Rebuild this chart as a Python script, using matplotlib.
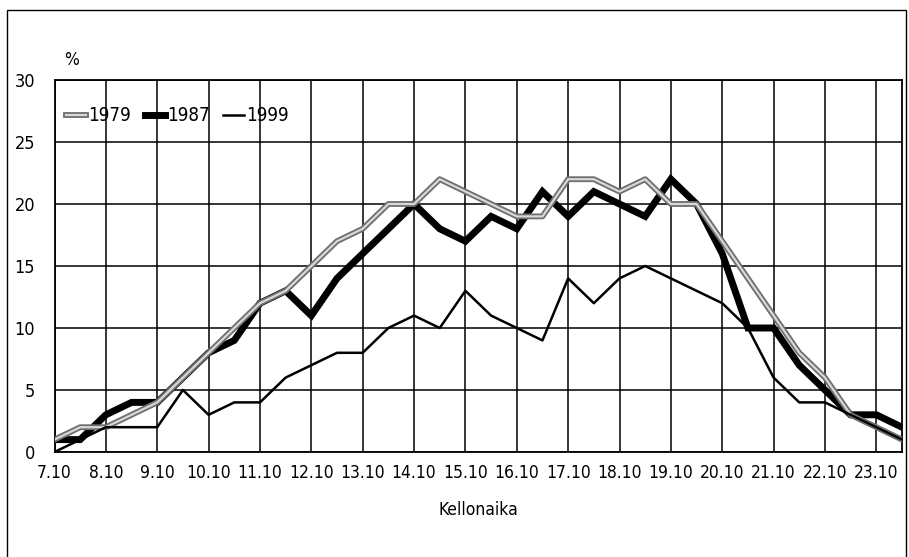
import matplotlib
matplotlib.use('Agg')
import matplotlib.pyplot as plt
import matplotlib.patheffects as pe
from matplotlib.patches import Rectangle

# kellonajat puolen tunnin valein 7.10 - 23.40
times = ['7.10', '7.40', '8.10', '8.40', '9.10', '9.40', '10.10', '10.40', '11.10', '11.40',
         '12.10', '12.40', '13.10', '13.40', '14.10', '14.40', '15.10', '15.40', '16.10', '16.40',
         '17.10', '17.40', '18.10', '18.40', '19.10', '19.40', '20.10', '20.40', '21.10', '21.40',
         '22.10', '22.40', '23.10', '23.40']
y1979 = [1, 2, 2, 3, 4, 6, 8, 10, 12, 13, 15, 17, 18, 20, 20, 22, 21, 20, 19, 19,
         22, 22, 21, 22, 20, 20, 17, 14, 11, 8, 6, 3, 2, 1]
y1987 = [1, 1, 3, 4, 4, 6, 8, 9, 12, 13, 11, 14, 16, 18, 20, 18, 17, 19, 18, 21,
         19, 21, 20, 19, 22, 20, 16, 10, 10, 7, 5, 3, 3, 2]
y1999 = [0, 1, 2, 2, 2, 5, 3, 4, 4, 6, 7, 8, 8, 10, 11, 10, 13, 11, 10, 9,
         14, 12, 14, 15, 14, 13, 12, 10, 6, 4, 4, 3, 2, 1]
tick_labels = times[::2]

plt.rcParams['font.family'] = ['DejaVu Sans']
plt.rcParams['font.stretch'] = 'condensed'

fig = plt.figure(figsize=(9.09, 5.57), dpi=100)
ax = fig.add_axes([54.5 / 909, 1 - 452 / 557, (902 - 54.5) / 909, (452 - 80) / 557])

# kehys koko kuvan ympari
fig.patches.append(Rectangle((7 / 909, -0.01), 899 / 909, 1.01 - 10 / 557, transform=fig.transFigure,
                             fill=False, ec='black', lw=1.0))

x = list(range(len(times)))
ax.plot(x, y1987, color='black', lw=5, solid_joinstyle='miter', label='1987', zorder=3)
ax.plot(x, y1979, color='#d8d8d8', lw=1.6, label='1979', zorder=4,
        path_effects=[pe.Stroke(linewidth=4.2, foreground='#6e6e6e'), pe.Normal()])
ax.plot(x, y1999, color='black', lw=1.8, label='1999', zorder=5)

ax.set_xlim(0, len(times) - 1)
ax.set_ylim(0, 30)
ax.set_xticks(x[::2])
ax.set_xticklabels(tick_labels, fontsize=12.5)
ax.set_yticks(range(0, 31, 5))
ax.tick_params(axis='y', labelsize=13, length=0, pad=14)
ax.tick_params(axis='x', length=0, pad=9)
ax.grid(True, color='black', lw=1.1)
ax.set_axisbelow(True)
for s in ax.spines.values():
    s.set_linewidth(1.3)

ax.set_xlabel('Kellonaika', fontsize=12.5, labelpad=13)
fig.text(64 / 909, 1 - 60 / 557, '%', fontsize=12.5, va='center')

h, l = ax.get_legend_handles_labels()
order = [1, 0, 2]
ax.legend([h[i] for i in order], [l[i] for i in order], loc='upper left', ncol=3, frameon=False,
          fontsize=13.5, handlelength=1.1, handletextpad=0.12, columnspacing=0.7,
          bbox_to_anchor=(0.0, 0.96), borderaxespad=0.2)

fig.savefig('out.png', dpi=100)
